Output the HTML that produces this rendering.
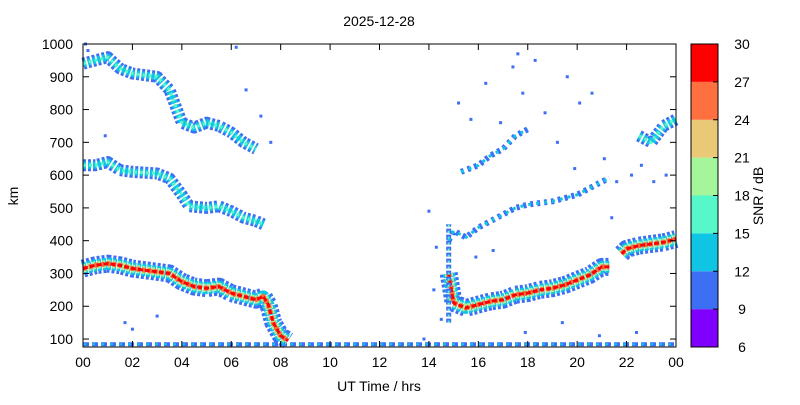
<!DOCTYPE html>
<html><head><meta charset="utf-8"><style>
body{margin:0;background:#fff;}
svg text{font-family:"Liberation Sans",sans-serif;font-size:14px;fill:#000;}
</style></head><body>
<svg id="c" width="800" height="400">
<text x="379" y="26" text-anchor="middle">2025-12-28</text>
<g id="plot"></g>
<g id="axes"></g>
<g id="cbar"></g>
<text x="379" y="391" text-anchor="middle">UT Time / hrs</text>
<text transform="translate(18,196) rotate(-90)" text-anchor="middle">km</text>
<text transform="translate(763,196) rotate(-90)" text-anchor="middle">SNR / dB</text>
</svg>
<script>
const xTicks=['00','02','04','06','08','10','12','14','16','18','20','22','00'];
const yTicks=[100,200,300,400,500,600,700,800,900,1000];
const cbTicks=[6,9,12,15,18,21,24,27,30];
const cbColors=['#7f00ff','#3d6ff5','#10c4e4','#56f7c8','#a5f59a','#e9c878','#ff7040','#ff0000'];
// traces: hours / km
const t1h=[0,0.5,1,1.5,2,2.5,3,3.5,4,4.5,5,5.5,6,6.5,7,7.3,7.5,7.7,8,8.3];
const t1k=[315,325,330,325,315,310,305,300,275,260,255,260,240,230,220,230,205,150,110,95];
const t2h=[0,0.5,1,1.5,2,3,3.5,4,4.3,5,5.5,6,6.5,7,7.3];
const t2k=[630,630,640,615,610,605,590,540,505,500,505,490,470,460,450];
const t3h=[0,0.5,1,1.5,2,3,3.5,3.8,4,4.5,5,5.5,6,6.5,7];
const t3k=[940,950,960,925,910,900,860,800,760,745,760,750,730,700,680];
const t4h=[14.8,15,15.5,16,16.5,17,17.5,18,18.5,19,19.5,20,20.5,21,21.3];
const t4k=[300,210,195,205,215,220,235,240,250,255,265,280,295,320,320];
const t5h=[21.8,22,22.5,23,23.5,24];
const t5k=[360,375,385,390,395,405];
const t6h=[14.8,15,15.5,16,16.5,17,17.5,18,18.5,19,19.5,20,20.5,21,21.3];
const t6k=[400,430,410,440,460,480,500,510,515,520,530,540,560,580,590];
const t7h=[15.3,16,16.5,17,17.5,18];
const t7k=[610,630,660,680,720,740];
const t8h=[22.5,23,23.5,24];
const t8k=[720,700,750,770];
const t9h=[0,24];
const t9k=[84,84];
const dotH=[0.1,0.2,0.9,1.7,2,3,6.2,6.6,7.2,7.6,14,14.3,14.5,15.2,15.7,16.3,16.9,17.4,17.8,18.3,18.7,19.2,19.6,20.1,20.6,21.1,21.6,22.2,22.6,23.1,15.9,16.6,17.9,19.4,20.9,22.4,23.6,13.8,14.2,17.6,19.9,21.4];
const dotK=[1000,980,720,150,130,170,990,860,780,700,490,380,160,820,770,880,760,930,850,950,790,700,900,820,850,650,580,600,630,580,350,370,120,150,110,120,600,100,250,970,620,470];
const x=h=>83+h*593/24, y=k=>44+(1000-k)*0.3278;
const NS='http://www.w3.org/2000/svg';
const plot=document.getElementById('plot'),axes=document.getElementById('axes'),cb=document.getElementById('cbar');
function mk(t,a,p){const e=document.createElementNS(NS,t);for(const k in a)e.setAttribute(k,a[k]);(p||plot).appendChild(e);return e;}
function trace(hs,ks,layers,name){
 const pts=hs.map((h,i)=>x(h)+','+y(ks[i])).join(' ');
 layers.forEach(([w,c,d])=>{const p=mk('polyline',{points:pts,fill:'none',stroke:c,'stroke-width':w,'stroke-linejoin':'round','stroke-dasharray':d||'none'});
 
 });
}
const strong=[[18,'#3d6ff5','3,2'],[12,'#10c4e4','4,1'],[8,'#a5f59a','3,2'],[5,'#ff7040','4,2'],[3,'#ff0000','5,2']];
const mid=[[12,'#3d6ff5','3,2'],[7,'#10c4e4','3,2'],[3,'#56f7c8','3,3']];
const weak=[[6,'#3d6ff5','3,4'],[3,'#10c4e4','3,5']];
trace(t9h,t9k,[[4,'#3d6ff5','6,3'],[2,'#10c4e4','3,6']],'e-layer-trace');
trace(t1h,t1k,strong,'f-layer-trace-am');
trace(t2h,t2k,mid,'second-hop-trace-am');
trace(t3h,t3k,mid,'third-hop-trace-am');
trace(t4h,t4k,strong,'f-layer-trace-pm');
trace(t5h,t5k,strong,'f-layer-trace-late');
trace(t6h,t6k,weak,'second-hop-trace-pm');
trace(t7h,t7k,weak,'third-hop-trace-pm');
trace(t8h,t8k,mid,'third-hop-trace-late');
trace([14.8,14.8],[150,450],[[5,'#3d6ff5','4,2'],[2,'#56f7c8','2,4']],'dawn-spread');
dotH.forEach((h,i)=>{const r=mk('rect',{x:x(h)-1.5,y:y(dotK[i])-1.5,width:3,height:3,fill:'#3d6ff5'});
 
 });
mk('rect',{x:83,y:44,width:593,height:303,fill:'none',stroke:'#000','stroke-width':1},axes);
xTicks.forEach((t,i)=>{const xx=83+i*593/12;mk('line',{x1:xx,x2:xx,y1:347,y2:341,stroke:'#000'},axes);mk('line',{x1:xx,x2:xx,y1:44,y2:50,stroke:'#000'},axes);
 const e=mk('text',{x:xx,y:367,'text-anchor':'middle'},axes);e.textContent=t;
 
 });
yTicks.forEach(v=>{const yy=y(v);mk('line',{x1:83,x2:89,y1:yy,y2:yy,stroke:'#000'},axes);mk('line',{x1:676,x2:670,y1:yy,y2:yy,stroke:'#000'},axes);
 const e=mk('text',{x:73,y:yy+5,'text-anchor':'end'},axes);e.textContent=v;
 
 });
const cbTop=44,cbBot=347,bh=(cbBot-cbTop)/cbColors.length;
cbColors.forEach((c,i)=>{mk('rect',{x:691,y:cbBot-(i+1)*bh,width:27,height:bh,fill:c},cb);});
mk('rect',{x:691,y:cbTop,width:27,height:cbBot-cbTop,fill:'none',stroke:'#000'},cb);
cbTicks.forEach((v,i)=>{const yy=cbBot-i*bh;mk('line',{x1:718,x2:713,y1:yy,y2:yy,stroke:'#000'},cb);
 const e=mk('text',{x:742,y:yy+5,'text-anchor':'middle'},cb);e.textContent=v;
 
 });
</script>
</body></html>
